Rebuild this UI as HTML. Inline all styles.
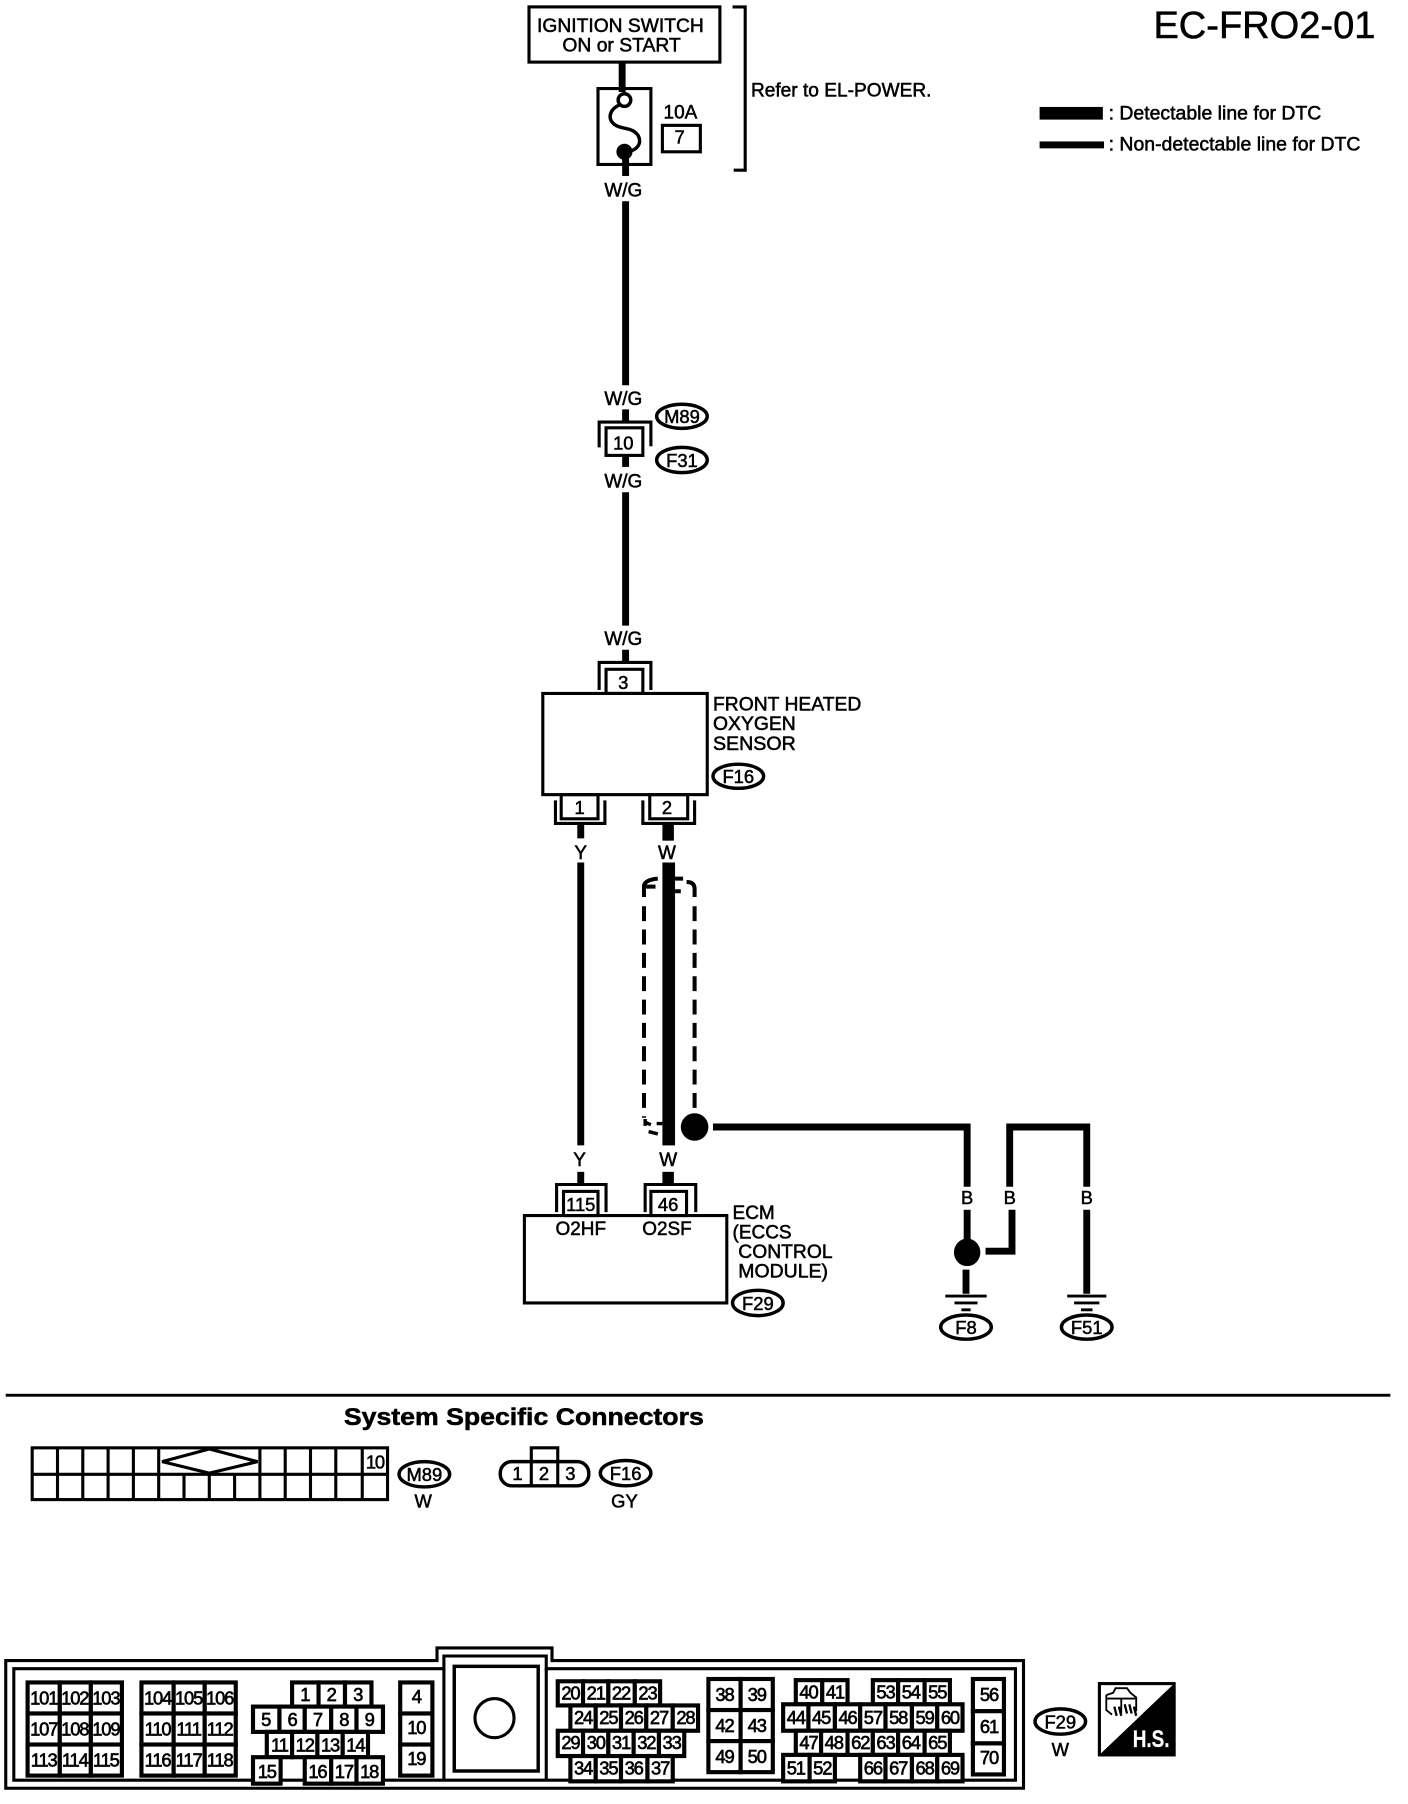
<!DOCTYPE html>
<html><head><meta charset="utf-8"><style>
html,body{margin:0;padding:0;background:#fff}
svg{display:block}
text{font-family:"Liberation Sans",sans-serif;fill:#000;stroke:#000;stroke-width:.45}
.m{text-anchor:middle}
.t{font-size:16.5px}
.c{font-size:16px;text-anchor:middle}
.n{font-size:16px;text-anchor:middle;letter-spacing:-1px}
.n text{stroke-width:.55}
.k rect{fill:#fff;stroke:#000;stroke-width:3.6}
.f{fill:none;stroke:#000;stroke-width:2.7}
.w{fill:none;stroke:#000;stroke-width:6}
.o{fill:#fff;stroke:#000;stroke-width:3}
</style></head><body>
<svg xmlns="http://www.w3.org/2000/svg" width="1408" height="1804" viewBox="0 0 1224.35 1568.7">
<rect x="0" y="0" width="1225" height="1569" fill="#fff" stroke="none"/>
<!-- title and legend -->
<text x="1003" y="33" font-size="33" textLength="193" lengthAdjust="spacingAndGlyphs">EC-FRO2-01</text>
<rect x="904" y="93" width="55" height="11"/>
<rect x="904" y="123" width="56" height="6"/>
<text x="964" y="104" class="t" textLength="185" lengthAdjust="spacingAndGlyphs">: Detectable line for DTC</text>
<text x="964" y="131" class="t" textLength="219" lengthAdjust="spacingAndGlyphs">: Non-detectable line for DTC</text>
<!-- ignition -->
<rect x="460" y="6" width="166" height="48" class="f"/>
<text x="467" y="28" class="t" textLength="145" lengthAdjust="spacingAndGlyphs">IGNITION SWITCH</text>
<text x="489" y="45" class="t" textLength="103" lengthAdjust="spacingAndGlyphs">ON or START</text>
<path d="M541 54V80" class="w"/>
<rect x="520" y="77" width="46" height="66" class="f"/>
<circle cx="543" cy="87" r="5.5" class="o"/>
<path d="M539 91C530 95 528 103 534 108C540 113 550 110 555 118C558 124 555 129 549 131" fill="none" stroke="#000" stroke-width="3"/>
<circle cx="543" cy="132" r="7"/>
<path d="M544 138V153" class="w"/>
<text x="577" y="103" class="t">10A</text>
<rect x="576" y="109" width="33" height="23" class="f"/>
<text x="591" y="125" class="c">7</text>
<path d="M637 6H648V148H638" class="f"/>
<text x="653" y="84" class="t" textLength="157" lengthAdjust="spacingAndGlyphs">Refer to EL-POWER.</text>
<text x="542" y="171" class="t m">W/G</text>
<path d="M544 175V335" class="w"/>
<text x="542" y="352" class="t m">W/G</text>
<path d="M544 356V366" class="w"/>
<path d="M521 389V367H566V388" class="f"/>
<rect x="527" y="372" width="32" height="24" class="f"/>
<text x="542" y="391" class="c">10</text>
<path d="M544 396V406" class="w"/>
<ellipse cx="593" cy="362" rx="22" ry="10.5" class="o"/><text x="593" y="368" class="c">M89</text>
<ellipse cx="593" cy="400" rx="22" ry="11" class="o"/><text x="593" y="406" class="c">F31</text>
<text x="542" y="424" class="t m">W/G</text>
<path d="M544 428V544" class="w"/>
<text x="542" y="561" class="t m">W/G</text>
<path d="M544 565V575" class="w"/>
<!-- sensor -->
<path d="M521 600V576H566V600" class="f"/>
<rect x="527" y="582" width="32" height="21" class="f"/>
<text x="542" y="599" class="c">3</text>
<rect x="472" y="603" width="143" height="88" class="f"/>
<text x="620" y="618" class="t" textLength="129" lengthAdjust="spacingAndGlyphs">FRONT HEATED</text>
<text x="620" y="635" class="t" textLength="72" lengthAdjust="spacingAndGlyphs">OXYGEN</text>
<text x="620" y="652" class="t" textLength="72" lengthAdjust="spacingAndGlyphs">SENSOR</text>
<ellipse cx="642" cy="675" rx="22" ry="10.5" class="o"/><text x="642" y="681" class="c">F16</text>
<path d="M483 696V716H526V696" class="f"/>
<rect x="488" y="691" width="32" height="21" class="f"/>
<text x="504" y="708" class="c">1</text>
<path d="M559 696V716H604V696" class="f"/>
<rect x="565" y="691" width="33" height="21" class="f"/>
<text x="580" y="708" class="c">2</text>
<path d="M505 717V729" class="w"/>
<rect x="576" y="717" width="10" height="14"/>
<text x="505" y="747" class="t m">Y</text>
<text x="580" y="747" class="t m">W</text>
<path d="M505 750V996" class="w"/>
<rect x="576" y="750" width="11" height="246"/>
<text x="504" y="1014" class="t m">Y</text>
<text x="581" y="1014" class="t m">W</text>
<path d="M505 1019V1029" class="w"/>
<rect x="576" y="1019" width="10" height="10"/>
<!-- shield -->
<path d="M560 780V770Q561 765 572 764M561 771H570" fill="none" stroke="#000" stroke-width="3.5"/>
<path d="M560 788V972" fill="none" stroke="#000" stroke-width="3.5" stroke-dasharray="13 7.3"/>
<path d="M561 973V979M561 976L566 978M564 984L572 986M571 977H576" fill="none" stroke="#000" stroke-width="3"/>
<path d="M587 764H594M587 775H592M597 767Q604 767 604 773V780" fill="none" stroke="#000" stroke-width="3.5"/>
<path d="M604 788V964" fill="none" stroke="#000" stroke-width="3.5" stroke-dasharray="13 7.3"/>
<circle cx="604" cy="980" r="12"/>
<path d="M620 980H841V1032" class="w"/>
<text x="841" y="1047" class="c">B</text>
<path d="M841 1052V1078" class="w"/>
<ellipse cx="841" cy="1089" rx="11.5" ry="12"/>
<path d="M857 1088H880V1052" class="w"/>
<text x="878" y="1047" class="c">B</text>
<path d="M878 1032V980H945V1032" class="w"/>
<text x="945" y="1047" class="c">B</text>
<path d="M945 1052V1125" class="w"/>
<path d="M840 1104V1125" class="w"/>
<path d="M822 1127H858M830 1133H850M836 1139H844M928 1127H962M934 1133H956M940 1139H950" stroke="#000" stroke-width="2.5" fill="none"/>
<ellipse cx="840" cy="1154" rx="22" ry="10.5" class="o"/><text x="840" y="1160" class="c">F8</text>
<ellipse cx="945" cy="1154" rx="22" ry="10.5" class="o"/><text x="945" y="1160" class="c">F51</text>
<!-- ECM -->
<path d="M484 1054V1030H527V1054" class="f"/>
<rect x="490" y="1036" width="30" height="21" class="f"/>
<text x="505" y="1053" class="c">115</text>
<path d="M561 1054V1030H605V1054" class="f"/>
<rect x="566" y="1036" width="31" height="21" class="f"/>
<text x="581" y="1053" class="c">46</text>
<rect x="456" y="1057" width="176" height="76" class="f"/>
<text x="505" y="1074" class="t m">O2HF</text>
<text x="580" y="1074" class="t m">O2SF</text>
<text x="637" y="1060" class="t">ECM</text>
<text x="637" y="1077" class="t">(ECCS</text>
<text x="642" y="1094" class="t" textLength="82" lengthAdjust="spacingAndGlyphs">CONTROL</text>
<text x="642" y="1111" class="t" textLength="78" lengthAdjust="spacingAndGlyphs">MODULE)</text>
<ellipse cx="659" cy="1133" rx="22" ry="11" class="o"/><text x="659" y="1139" class="c">F29</text>
<!-- separator -->
<rect x="5" y="1212" width="1204" height="2.5"/>
<text x="299" y="1239" font-size="21" font-weight="700" textLength="313" lengthAdjust="spacingAndGlyphs">System Specific Connectors</text>
<!-- M89 connector -->
<rect x="28" y="1259" width="309" height="45" class="f"/>
<path d="M28 1282H337M50 1259V1304M72 1259V1304M94 1259V1304M116 1259V1304M138 1259V1304M160 1282V1304M182 1282V1304M204 1282V1304M226 1259V1304M248 1259V1304M270 1259V1304M292 1259V1304M315 1259V1304" class="f"/>
<path d="M141 1271L182 1260L224 1271L182 1281Z" fill="#fff" stroke="#000" stroke-width="2.7"/>
<text x="326" y="1277" class="c" font-size="14" style="letter-spacing:-1px">10</text>
<ellipse cx="369" cy="1282" rx="22" ry="11" class="o"/><text x="369" y="1288" class="c">M89</text>
<text x="368" y="1311" class="c">W</text>
<rect x="435" y="1271" width="77" height="21" rx="10" class="o"/>
<path d="M462 1271V1292M485 1271V1292M462 1271V1259H485V1271" class="f"/>
<text x="450" y="1287" class="c">1</text><text x="473" y="1287" class="c">2</text><text x="496" y="1287" class="c">3</text>
<ellipse cx="544" cy="1281" rx="22" ry="11" class="o"/><text x="544" y="1287" class="c">F16</text>
<text x="543" y="1311" class="c">GY</text>
<!-- big connector -->
<path d="M5 1555V1444H380V1433H480V1444H890V1555Z" class="f"/>
<path d="M12 1548V1451H386V1440H475V1451H883V1548Z" class="f"/>
<path d="M386 1451V1548M475 1451V1548" class="f"/>
<rect x="395" y="1449" width="73" height="91" stroke="#000" stroke-width="3" fill="none"/>
<circle cx="430" cy="1494" r="17" class="f"/>
<g class="k">
<rect x="24" y="1463" width="28" height="27"/><rect x="52" y="1463" width="27" height="27"/><rect x="79" y="1463" width="27" height="27"/>
<rect x="24" y="1490" width="28" height="27"/><rect x="52" y="1490" width="27" height="27"/><rect x="79" y="1490" width="27" height="27"/>
<rect x="24" y="1517" width="28" height="27"/><rect x="52" y="1517" width="27" height="27"/><rect x="79" y="1517" width="27" height="27"/>
<rect x="123" y="1463" width="28" height="27"/><rect x="151" y="1463" width="27" height="27"/><rect x="178" y="1463" width="27" height="27"/>
<rect x="123" y="1490" width="28" height="27"/><rect x="151" y="1490" width="27" height="27"/><rect x="178" y="1490" width="27" height="27"/>
<rect x="123" y="1517" width="28" height="27"/><rect x="151" y="1517" width="27" height="27"/><rect x="178" y="1517" width="27" height="27"/>
<rect x="254" y="1463" width="23" height="21"/><rect x="277" y="1463" width="23" height="21"/><rect x="300" y="1463" width="23" height="21"/>
<rect x="220" y="1484" width="23" height="22"/><rect x="243" y="1484" width="22" height="22"/><rect x="265" y="1484" width="23" height="22"/><rect x="288" y="1484" width="22" height="22"/><rect x="310" y="1484" width="23" height="22"/>
<rect x="232" y="1506" width="22" height="22"/><rect x="254" y="1506" width="22" height="22"/><rect x="276" y="1506" width="22" height="22"/><rect x="298" y="1506" width="22" height="22"/>
<rect x="220" y="1528" width="24" height="23"/><rect x="265" y="1528" width="23" height="23"/><rect x="288" y="1528" width="22" height="23"/><rect x="310" y="1528" width="23" height="23"/>
<rect x="348" y="1463" width="28" height="27"/><rect x="348" y="1490" width="28" height="27"/><rect x="348" y="1517" width="28" height="27"/>
<rect x="485" y="1462" width="22" height="21"/><rect x="507" y="1462" width="22" height="21"/><rect x="529" y="1462" width="23" height="21"/><rect x="552" y="1462" width="22" height="21"/>
<rect x="496" y="1483" width="22" height="22"/><rect x="518" y="1483" width="22" height="22"/><rect x="540" y="1483" width="22" height="22"/><rect x="562" y="1483" width="23" height="22"/><rect x="585" y="1483" width="22" height="22"/>
<rect x="485" y="1505" width="22" height="22"/><rect x="507" y="1505" width="22" height="22"/><rect x="529" y="1505" width="22" height="22"/><rect x="551" y="1505" width="22" height="22"/><rect x="573" y="1505" width="22" height="22"/>
<rect x="496" y="1527" width="22" height="22"/><rect x="518" y="1527" width="22" height="22"/><rect x="540" y="1527" width="23" height="22"/><rect x="563" y="1527" width="22" height="22"/>
<rect x="616" y="1460" width="28" height="27"/><rect x="644" y="1460" width="28" height="27"/>
<rect x="616" y="1487" width="28" height="27"/><rect x="644" y="1487" width="28" height="27"/>
<rect x="616" y="1514" width="28" height="27"/><rect x="644" y="1514" width="28" height="27"/>
<rect x="692" y="1461" width="23" height="21"/><rect x="715" y="1461" width="22" height="21"/>
<rect x="759" y="1461" width="22" height="21"/><rect x="781" y="1461" width="23" height="21"/><rect x="804" y="1461" width="22" height="21"/>
<rect x="681" y="1482" width="22" height="23"/><rect x="703" y="1482" width="23" height="23"/><rect x="726" y="1482" width="22" height="23"/><rect x="748" y="1482" width="22" height="23"/><rect x="770" y="1482" width="23" height="23"/><rect x="793" y="1482" width="22" height="23"/><rect x="815" y="1482" width="22" height="23"/>
<rect x="692" y="1505" width="22" height="21"/><rect x="714" y="1505" width="23" height="21"/><rect x="737" y="1505" width="22" height="21"/><rect x="759" y="1505" width="22" height="21"/><rect x="781" y="1505" width="23" height="21"/><rect x="804" y="1505" width="22" height="21"/>
<rect x="681" y="1526" width="23" height="23"/><rect x="704" y="1526" width="22" height="23"/>
<rect x="748" y="1526" width="22" height="23"/><rect x="770" y="1526" width="23" height="23"/><rect x="793" y="1526" width="22" height="23"/><rect x="815" y="1526" width="22" height="23"/>
<rect x="846" y="1460" width="27" height="28"/><rect x="846" y="1488" width="27" height="28"/><rect x="846" y="1516" width="27" height="27"/>
</g>
<g class="n">
<text x="38" y="1482">101</text><text x="65" y="1482">102</text><text x="92" y="1482">103</text>
<text x="38" y="1509">107</text><text x="65" y="1509">108</text><text x="92" y="1509">109</text>
<text x="38" y="1536">113</text><text x="65" y="1536">114</text><text x="92" y="1536">115</text>
<text x="137" y="1482">104</text><text x="164" y="1482">105</text><text x="191" y="1482">106</text>
<text x="137" y="1509">110</text><text x="164" y="1509">111</text><text x="191" y="1509">112</text>
<text x="137" y="1536">116</text><text x="164" y="1536">117</text><text x="191" y="1536">118</text>
<text x="265" y="1479">1</text><text x="288" y="1479">2</text><text x="311" y="1479">3</text>
<text x="231" y="1501">5</text><text x="254" y="1501">6</text><text x="276" y="1501">7</text><text x="299" y="1501">8</text><text x="321" y="1501">9</text>
<text x="243" y="1523">11</text><text x="265" y="1523">12</text><text x="287" y="1523">13</text><text x="309" y="1523">14</text>
<text x="232" y="1546">15</text><text x="276" y="1546">16</text><text x="299" y="1546">17</text><text x="321" y="1546">18</text>
<text x="362" y="1481">4</text><text x="362" y="1508">10</text><text x="362" y="1535">19</text>
<text x="496" y="1478">20</text><text x="518" y="1478">21</text><text x="540" y="1478">22</text><text x="563" y="1478">23</text>
<text x="507" y="1499">24</text><text x="529" y="1499">25</text><text x="551" y="1499">26</text><text x="573" y="1499">27</text><text x="596" y="1499">28</text>
<text x="496" y="1521">29</text><text x="518" y="1521">30</text><text x="540" y="1521">31</text><text x="562" y="1521">32</text><text x="584" y="1521">33</text>
<text x="507" y="1543">34</text><text x="529" y="1543">35</text><text x="551" y="1543">36</text><text x="574" y="1543">37</text>
<text x="630" y="1479">38</text><text x="658" y="1479">39</text>
<text x="630" y="1506">42</text><text x="658" y="1506">43</text>
<text x="630" y="1533">49</text><text x="658" y="1533">50</text>
<text x="703" y="1477">40</text><text x="726" y="1477">41</text>
<text x="770" y="1477">53</text><text x="792" y="1477">54</text><text x="815" y="1477">55</text>
<text x="692" y="1499">44</text><text x="714" y="1499">45</text><text x="737" y="1499">46</text><text x="759" y="1499">57</text><text x="781" y="1499">58</text><text x="804" y="1499">59</text><text x="826" y="1499">60</text>
<text x="703" y="1521">47</text><text x="725" y="1521">48</text><text x="748" y="1521">62</text><text x="770" y="1521">63</text><text x="792" y="1521">64</text><text x="815" y="1521">65</text>
<text x="692" y="1543">51</text><text x="715" y="1543">52</text>
<text x="759" y="1543">66</text><text x="781" y="1543">67</text><text x="804" y="1543">68</text><text x="826" y="1543">69</text>
<text x="860" y="1479">56</text><text x="860" y="1507">61</text><text x="860" y="1534">70</text>
</g>
<ellipse cx="922" cy="1497" rx="22" ry="11" class="o"/><text x="922" y="1503" class="c">F29</text>
<text x="922" y="1527" class="c">W</text>
<!-- H.S. icon -->
<rect x="956" y="1464" width="65" height="62" fill="#fff" stroke="#000" stroke-width="2.7"/>
<path d="M1021 1464V1526H956Z"/>
<path d="M962 1474L968 1472L970 1468H980L983 1472L988 1476V1488M962 1474V1487L967 1491M962 1477H988M975 1477V1490" fill="none" stroke="#000" stroke-width="1.6"/>
<path d="M969 1484L971 1492M973 1484L975 1492M978 1482L980 1490M982 1482L984 1490M986 1484L988 1492" fill="none" stroke="#000" stroke-width="2"/>
<text x="985" y="1519" font-size="21" font-weight="700" textLength="32" lengthAdjust="spacingAndGlyphs" style="fill:#fff;stroke:#fff;stroke-width:.2">H.S.</text>
</svg>
</body></html>
